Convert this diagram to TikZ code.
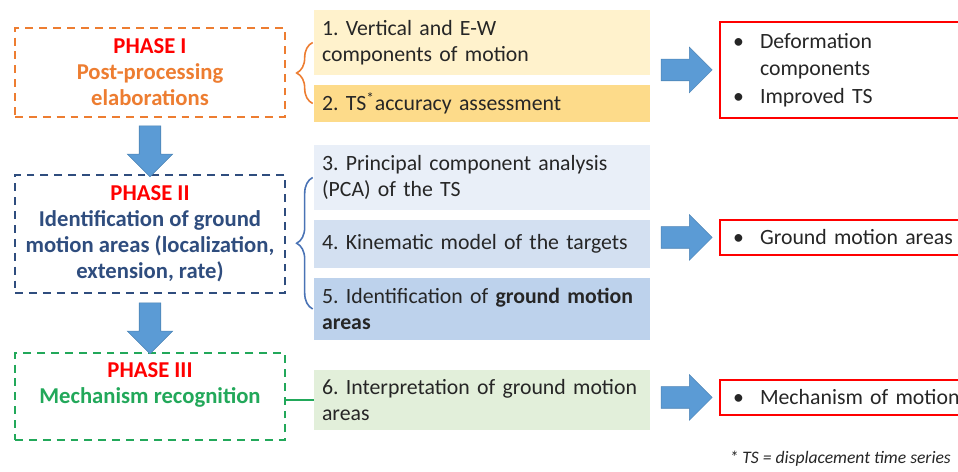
\documentclass[tikz,border=0pt]{standalone}
\usepackage{fontspec}
\setmainfont{Carlito}
\usetikzlibrary{calc,positioning,shapes.arrows,decorations.pathreplacing}

\definecolor{phaseorange}{HTML}{ED7D31}
\definecolor{phaseblue}{HTML}{2F4D7E}
\definecolor{bracketblue}{HTML}{4A73B5}
\definecolor{phasegreen}{HTML}{22A85A}
\definecolor{phasered}{HTML}{FF0000}
\definecolor{arrowblue}{HTML}{5B9BD5}
\definecolor{stepA}{HTML}{FFF2CC}
\definecolor{stepB}{HTML}{FDDB8A}
\definecolor{stepC}{HTML}{E9EFF8}
\definecolor{stepD}{HTML}{D3E0F1}
\definecolor{stepE}{HTML}{BDD2EC}
\definecolor{stepF}{HTML}{E2EFDA}

\newcommand{\outbullet}{\makebox[0.54cm][l]{\textbullet}}
\newcommand{\outindent}{\hspace*{0.54cm}}

\tikzset{
  phasebox/.style={draw, line width=1.4pt, dash pattern=on 4.5pt off 3.4pt,
    minimum width=5.4cm, align=center,
    font=\bfseries\fontsize{12.9}{14.8}\selectfont},
  stepbox/.style={minimum width=6.72cm, text width=6.4cm, inner xsep=0.16cm,
    align=left, text=black!85, font=\fontsize{12.4}{14.8}\selectfont},
  outbox/.style={draw=phasered, line width=1.1pt, text width=4.8cm,
    inner xsep=0.26cm, align=left, text=black!85,
    font=\fontsize{12.4}{15.8}\selectfont},
  blockarrow/.style={single arrow, fill=arrowblue, draw=arrowblue!85!black,
    line width=0.3pt, inner xsep=0pt, inner ysep=0.21cm, minimum height=1.02cm,
    minimum width=0.9cm, single arrow head extend=0.24cm,
    single arrow tip angle=90},
  bracket/.style={decorate, line width=0.9pt,
    decoration={brace, amplitude=0.32cm, aspect=0.5}}
}

\begin{document}
\frenchspacing
\begin{tikzpicture}[x=0.02cm, y=-0.02cm]
		\useasboundingbox (0,0) rectangle (958,472);
		
		% phases
		\node[phasebox, draw=phaseorange, text=phaseorange, minimum height=1.78cm] (p1) at (150,72.5)
			{\textcolor{phasered}{PHASE I}\\Post-processing\\elaborations};
		\node[phasebox, draw=phaseblue, text=phaseblue, minimum height=2.36cm] (p2) at (150,234)
			{\textcolor{phasered}{PHASE II}\\Identification of ground\\motion areas (localization,\\extension, rate)};
		\node[phasebox, draw=phasegreen, text=phasegreen, minimum height=1.74cm] (p3) at (150,396.5)
			{\textcolor{phasered}{PHASE III}\\Mechanism recognition\\\mbox{}};
		
		\node[blockarrow, rotate=-90] (d1) at ($(p1.south)!0.5!(p2.north)$) {};
		\node[blockarrow, rotate=-90] (d2) at ($(p2.south)!0.5!(p3.north)$) {};
		
		% steps
		\node[stepbox, fill=stepA, minimum height=1.3cm] (s1) at (482,42.5)
			{1. Vertical and E-W\\components of motion};
		\node[stepbox, fill=stepB, minimum height=0.74cm] (s2) at (482,103.5)
			{2. TS\textsuperscript{*}accuracy assessment};
		\node[stepbox, fill=stepC, minimum height=1.3cm] (s3) at (482,177.5)
			{3. Principal component analysis\\(PCA) of the TS};
		\node[stepbox, fill=stepD, minimum height=0.96cm] (s4) at (482,244)
			{4. Kinematic model of the targets};
		\node[stepbox, fill=stepE, minimum height=1.24cm] (s5) at (482,309)
			{5. Identification of \textbf{ground motion}\\\textbf{areas}};
		\node[stepbox, fill=stepF, minimum height=1.2cm] (s6) at (482,400)
			{6. Interpretation of ground motion\\areas};
		
		\draw[bracket, phaseorange] ([xshift=-0.02cm]s2.west) -- ([xshift=-0.02cm]s1.west);
		\draw[bracket, bracketblue] ([xshift=-0.02cm]s5.west) -- ([xshift=-0.02cm]s3.west);
		\draw[phasegreen, line width=1.1pt] (s6.west -| p3.east) -- (s6.west);
		
		% results
		\node[outbox, minimum height=1.92cm] (o1) at (853,70)
			{\outbullet Deformation\\\outindent components\\\outbullet Improved TS};
		\node[outbox, minimum height=0.7cm] (o2) at (853,237.5)
			{\outbullet Ground motion areas};
		\node[outbox, minimum height=0.7cm] (o3) at (853,397.5)
			{\outbullet Mechanism of motion};
		
		\node[blockarrow] (r1) at ($(s1.east |- o1.west)!0.45!(o1.west)$) {};
		\node[blockarrow] (r2) at ($(s4.east |- o2.west)!0.45!(o2.west)$) {};
		\node[blockarrow] (r3) at ($(s6.east |- o3.west)!0.45!(o3.west)$) {};
		
		\node[anchor=east, text=black!85, font=\itshape\fontsize{10}{12}\selectfont] (note) at (957,459)
			{* TS = displacement time series};
	\end{tikzpicture}
\end{document}
